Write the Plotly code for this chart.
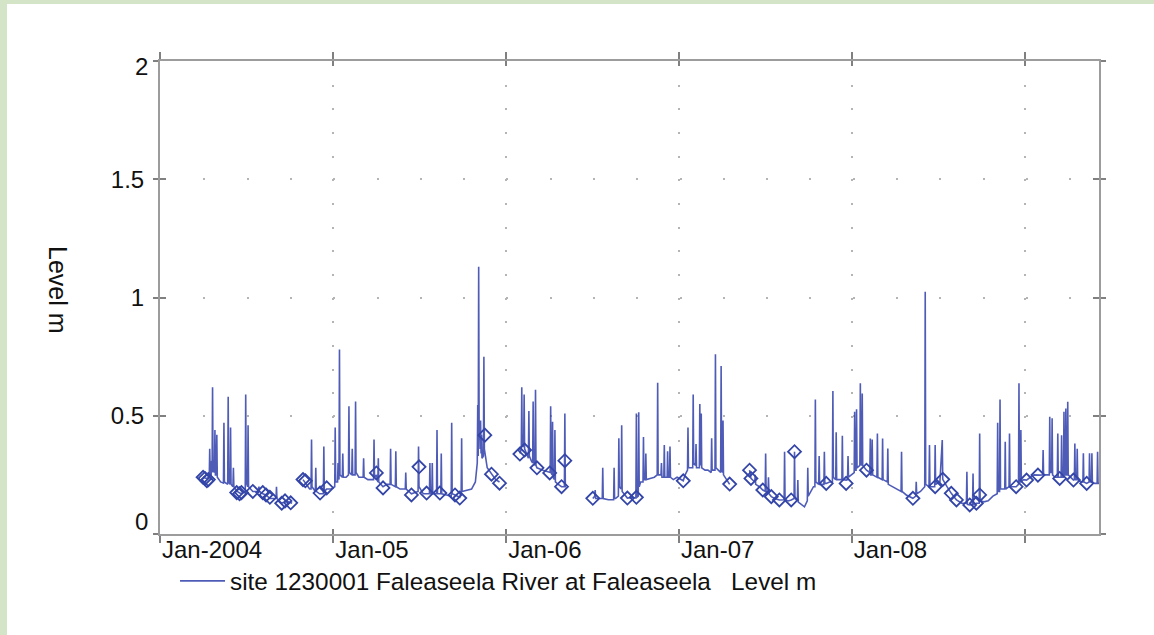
import plotly.graph_objects as go

# ---------------- data ----------------
year_ticks = ["2004-01-01", "2005-01-01", "2006-01-01", "2007-01-01", "2008-01-01", "2009-01-01"]
year_labels = ["Jan-2004", "Jan-05", "Jan-06", "Jan-07", "Jan-08", ""]
level_ticks = [0, 0.5, 1, 1.5, 2]
level_labels = ["0", "0.5", "1", "1.5", "2"]
x_range = ["2004-01-01", "2009-06-06"]

series_name = "site 1230001 Faleaseela River at Faleaseela\u00a0\u00a0 Level m"

# recorded water level (m), one list per recording period
seg_2004 = [
    ("2004-04-01", 0.24), ("2004-04-08", 0.235), ("2004-04-14", 0.24), ("2004-04-15", 0.36),
    ("2004-04-16", 0.25), ("2004-04-18", 0.25), ("2004-04-19", 0.31), ("2004-04-20", 0.26),
    ("2004-04-21", 0.62), ("2004-04-22", 0.27), ("2004-04-25", 0.26), ("2004-04-26", 0.44),
    ("2004-04-27", 0.25), ("2004-04-29", 0.25), ("2004-04-30", 0.42), ("2004-05-01", 0.24),
    ("2004-05-08", 0.22), ("2004-05-14", 0.215), ("2004-05-15", 0.47), ("2004-05-16", 0.22),
    ("2004-05-23", 0.21), ("2004-05-24", 0.58), ("2004-05-25", 0.22), ("2004-05-28", 0.21),
    ("2004-05-29", 0.45), ("2004-05-30", 0.21), ("2004-06-03", 0.20), ("2004-06-04", 0.28),
    ("2004-06-05", 0.20), ("2004-06-12", 0.18), ("2004-06-20", 0.17), ("2004-06-29", 0.18),
    ("2004-06-30", 0.59), ("2004-07-01", 0.22), ("2004-07-04", 0.20), ("2004-07-05", 0.46),
    ("2004-07-06", 0.20), ("2004-07-15", 0.18), ("2004-07-25", 0.18), ("2004-07-28", 0.20),
    ("2004-07-29", 0.18), ("2004-08-05", 0.17), ("2004-08-12", 0.165), ("2004-08-20", 0.15),
    ("2004-09-02", 0.15), ("2004-09-03", 0.20), ("2004-09-04", 0.15), ("2004-09-14", 0.13),
    ("2004-09-24", 0.14), ("2004-10-03", 0.13), ("2004-10-06", 0.13),
]

seg_2005 = [
    ("2004-10-29", 0.23), ("2004-11-05", 0.21), ("2004-11-12", 0.19), ("2004-11-15", 0.19),
    ("2004-11-16", 0.40), ("2004-11-17", 0.20), ("2004-11-24", 0.18), ("2004-11-25", 0.28),
    ("2004-11-26", 0.18), ("2004-12-03", 0.17), ("2004-12-11", 0.17), ("2004-12-12", 0.37),
    ("2004-12-13", 0.18), ("2004-12-18", 0.19), ("2004-12-27", 0.19), ("2005-01-04", 0.20),
    ("2005-01-05", 0.45), ("2005-01-06", 0.22), ("2005-01-10", 0.22), ("2005-01-11", 0.30),
    ("2005-01-12", 0.23), ("2005-01-13", 0.23), ("2005-01-14", 0.78), ("2005-01-15", 0.25),
    ("2005-01-20", 0.24), ("2005-01-21", 0.34), ("2005-01-22", 0.24), ("2005-01-28", 0.24),
    ("2005-02-02", 0.25), ("2005-02-03", 0.54), ("2005-02-04", 0.26), ("2005-02-09", 0.25),
    ("2005-02-10", 0.36), ("2005-02-11", 0.25), ("2005-02-16", 0.25), ("2005-02-17", 0.56),
    ("2005-02-18", 0.26), ("2005-02-24", 0.24), ("2005-03-05", 0.24), ("2005-03-06", 0.32),
    ("2005-03-07", 0.24), ("2005-03-15", 0.23), ("2005-03-27", 0.23), ("2005-03-28", 0.40),
    ("2005-03-29", 0.24), ("2005-04-02", 0.25), ("2005-04-05", 0.22), ("2005-04-06", 0.32),
    ("2005-04-07", 0.22), ("2005-04-16", 0.20), ("2005-04-24", 0.21), ("2005-05-01", 0.21),
    ("2005-05-02", 0.36), ("2005-05-03", 0.21), ("2005-05-12", 0.20), ("2005-05-13", 0.35),
    ("2005-05-14", 0.20), ("2005-05-22", 0.19), ("2005-06-02", 0.19), ("2005-06-03", 0.26),
    ("2005-06-04", 0.19), ("2005-06-15", 0.17), ("2005-06-29", 0.18), ("2005-06-30", 0.37),
    ("2005-07-01", 0.20), ("2005-07-10", 0.17), ("2005-07-17", 0.17), ("2005-07-23", 0.17),
    ("2005-07-24", 0.30), ("2005-07-25", 0.17), ("2005-07-28", 0.17), ("2005-07-29", 0.30),
    ("2005-07-30", 0.17), ("2005-08-07", 0.17), ("2005-08-08", 0.44), ("2005-08-09", 0.17),
    ("2005-08-14", 0.17), ("2005-08-16", 0.17), ("2005-08-17", 0.34), ("2005-08-18", 0.17),
    ("2005-08-28", 0.165), ("2005-09-07", 0.16), ("2005-09-08", 0.47), ("2005-09-09", 0.17),
    ("2005-09-15", 0.165), ("2005-09-25", 0.155), ("2005-09-28", 0.18), ("2005-09-29", 0.405),
    ("2005-09-30", 0.18), ("2005-10-10", 0.185), ("2005-10-20", 0.19), ("2005-10-28", 0.22),
    ("2005-11-01", 0.30), ("2005-11-02", 0.545), ("2005-11-03", 0.33), ("2005-11-04", 1.13),
    ("2005-11-05", 0.40), ("2005-11-06", 0.45), ("2005-11-07", 0.36), ("2005-11-08", 0.48),
    ("2005-11-09", 0.34), ("2005-11-10", 0.42), ("2005-11-11", 0.32), ("2005-11-14", 0.33),
    ("2005-11-15", 0.75), ("2005-11-16", 0.36), ("2005-11-22", 0.28), ("2005-12-02", 0.25),
    ("2005-12-10", 0.23), ("2005-12-18", 0.22),
]

seg_2006a = [
    ("2006-01-30", 0.34), ("2006-02-02", 0.36), ("2006-02-03", 0.62), ("2006-02-04", 0.37),
    ("2006-02-07", 0.37), ("2006-02-08", 0.59), ("2006-02-09", 0.36), ("2006-02-13", 0.34),
    ("2006-02-17", 0.32), ("2006-02-18", 0.52), ("2006-02-19", 0.33), ("2006-02-23", 0.31),
    ("2006-02-26", 0.30), ("2006-02-27", 0.56), ("2006-02-28", 0.31), ("2006-03-03", 0.29),
    ("2006-03-04", 0.61), ("2006-03-05", 0.29), ("2006-03-07", 0.28), ("2006-03-20", 0.27),
    ("2006-04-03", 0.26), ("2006-04-04", 0.26), ("2006-04-05", 0.54), ("2006-04-06", 0.26),
    ("2006-04-08", 0.25), ("2006-04-09", 0.475), ("2006-04-10", 0.24), ("2006-04-13", 0.23),
    ("2006-04-14", 0.44), ("2006-04-15", 0.22), ("2006-04-21", 0.21), ("2006-04-28", 0.20),
    ("2006-05-04", 0.20), ("2006-05-05", 0.51), ("2006-05-06", 0.20), ("2006-05-08", 0.20),
]

seg_2006b = [
    ("2006-07-03", 0.15), ("2006-07-07", 0.16), ("2006-07-08", 0.186), ("2006-07-09", 0.15),
    ("2006-07-16", 0.15), ("2006-07-23", 0.15), ("2006-07-24", 0.28), ("2006-07-25", 0.15),
    ("2006-08-05", 0.145), ("2006-08-16", 0.145), ("2006-08-17", 0.28), ("2006-08-18", 0.15),
    ("2006-08-20", 0.15), ("2006-08-26", 0.16), ("2006-08-27", 0.405), ("2006-08-28", 0.20),
    ("2006-09-01", 0.19), ("2006-09-02", 0.46), ("2006-09-03", 0.18), ("2006-09-08", 0.165),
    ("2006-09-14", 0.152), ("2006-09-25", 0.155), ("2006-10-02", 0.152), ("2006-10-03", 0.51),
    ("2006-10-04", 0.155), ("2006-10-07", 0.16), ("2006-10-08", 0.515), ("2006-10-09", 0.20),
    ("2006-10-12", 0.22), ("2006-10-17", 0.22), ("2006-10-18", 0.41), ("2006-10-19", 0.23),
    ("2006-10-22", 0.23), ("2006-10-23", 0.34), ("2006-10-24", 0.23), ("2006-11-01", 0.235),
    ("2006-11-10", 0.24), ("2006-11-16", 0.25), ("2006-11-17", 0.64), ("2006-11-18", 0.25),
    ("2006-11-24", 0.25), ("2006-11-25", 0.30), ("2006-11-26", 0.24), ("2006-11-30", 0.24),
    ("2006-12-01", 0.376), ("2006-12-02", 0.24), ("2006-12-07", 0.24), ("2006-12-08", 0.35),
    ("2006-12-09", 0.24), ("2006-12-12", 0.24), ("2006-12-13", 0.37), ("2006-12-14", 0.24),
    ("2006-12-20", 0.23), ("2006-12-28", 0.24), ("2007-01-06", 0.23), ("2007-01-10", 0.225),
    ("2007-01-14", 0.25), ("2007-01-19", 0.27), ("2007-01-20", 0.45), ("2007-01-21", 0.28),
    ("2007-01-25", 0.28), ("2007-01-30", 0.28), ("2007-01-31", 0.59), ("2007-02-01", 0.30),
    ("2007-02-05", 0.29), ("2007-02-06", 0.38), ("2007-02-07", 0.28), ("2007-02-13", 0.28),
    ("2007-02-14", 0.55), ("2007-02-15", 0.29), ("2007-02-17", 0.51), ("2007-02-18", 0.28),
    ("2007-02-25", 0.27), ("2007-03-03", 0.27), ("2007-03-10", 0.26), ("2007-03-11", 0.405),
    ("2007-03-12", 0.27), ("2007-03-18", 0.27), ("2007-03-19", 0.76), ("2007-03-20", 0.28),
    ("2007-03-25", 0.27), ("2007-03-30", 0.26), ("2007-03-31", 0.71), ("2007-04-01", 0.27),
    ("2007-04-03", 0.26), ("2007-04-04", 0.48), ("2007-04-05", 0.25), ("2007-04-12", 0.23),
    ("2007-04-18", 0.21),
]

seg_2007 = [
    ("2007-05-30", 0.27), ("2007-06-02", 0.235), ("2007-06-10", 0.22), ("2007-06-11", 0.25),
    ("2007-06-12", 0.21), ("2007-06-20", 0.20), ("2007-06-27", 0.186), ("2007-07-02", 0.18),
    ("2007-07-03", 0.34), ("2007-07-04", 0.18), ("2007-07-08", 0.17), ("2007-07-09", 0.24),
    ("2007-07-10", 0.17), ("2007-07-15", 0.158), ("2007-07-22", 0.15), ("2007-08-01", 0.144),
    ("2007-08-11", 0.145), ("2007-08-12", 0.348), ("2007-08-13", 0.145), ("2007-08-20", 0.14),
    ("2007-08-26", 0.144), ("2007-09-01", 0.15), ("2007-09-02", 0.348), ("2007-09-03", 0.15),
    ("2007-09-08", 0.14), ("2007-09-09", 0.228), ("2007-09-10", 0.135), ("2007-09-16", 0.125),
    ("2007-09-23", 0.115), ("2007-09-29", 0.14), ("2007-09-30", 0.28), ("2007-10-01", 0.16),
    ("2007-10-07", 0.18), ("2007-10-12", 0.20), ("2007-10-15", 0.20), ("2007-10-16", 0.569),
    ("2007-10-17", 0.22), ("2007-10-23", 0.21), ("2007-10-24", 0.33), ("2007-10-25", 0.21),
    ("2007-11-03", 0.21), ("2007-11-04", 0.348), ("2007-11-05", 0.214), ("2007-11-08", 0.214),
    ("2007-11-15", 0.22), ("2007-11-21", 0.22), ("2007-11-22", 0.605), ("2007-11-23", 0.24),
    ("2007-11-28", 0.23), ("2007-11-29", 0.43), ("2007-11-30", 0.23), ("2007-12-06", 0.23),
    ("2007-12-11", 0.23), ("2007-12-12", 0.415), ("2007-12-13", 0.23), ("2007-12-20", 0.228),
    ("2007-12-23", 0.23), ("2007-12-24", 0.33), ("2007-12-25", 0.24), ("2007-12-31", 0.25),
    ("2008-01-06", 0.26), ("2008-01-07", 0.517), ("2008-01-08", 0.27), ("2008-01-10", 0.27),
    ("2008-01-11", 0.527), ("2008-01-12", 0.28), ("2008-01-18", 0.29), ("2008-01-19", 0.637),
    ("2008-01-20", 0.30), ("2008-01-22", 0.29), ("2008-01-23", 0.594), ("2008-01-24", 0.29),
    ("2008-02-01", 0.27), ("2008-02-08", 0.26), ("2008-02-09", 0.404), ("2008-02-10", 0.25),
    ("2008-02-12", 0.25), ("2008-02-13", 0.40), ("2008-02-14", 0.25), ("2008-02-23", 0.24),
    ("2008-02-24", 0.425), ("2008-02-25", 0.24), ("2008-03-05", 0.23), ("2008-03-06", 0.404),
    ("2008-03-07", 0.23), ("2008-03-16", 0.22), ("2008-03-17", 0.362), ("2008-03-18", 0.21),
    ("2008-03-28", 0.20), ("2008-04-05", 0.19), ("2008-04-14", 0.18), ("2008-04-15", 0.348),
    ("2008-04-16", 0.18), ("2008-04-25", 0.165), ("2008-05-09", 0.151), ("2008-05-15", 0.16),
    ("2008-05-16", 0.221), ("2008-05-17", 0.17), ("2008-05-25", 0.18), ("2008-06-03", 0.20),
    ("2008-06-04", 1.024), ("2008-06-05", 0.21), ("2008-06-12", 0.20), ("2008-06-13", 0.376),
    ("2008-06-14", 0.20), ("2008-06-24", 0.20), ("2008-06-25", 0.376), ("2008-06-26", 0.21),
    ("2008-07-05", 0.22), ("2008-07-10", 0.397), ("2008-07-11", 0.231), ("2008-07-20", 0.20),
    ("2008-07-29", 0.172), ("2008-08-09", 0.144), ("2008-08-20", 0.13), ("2008-08-30", 0.13),
    ("2008-08-31", 0.263), ("2008-09-01", 0.125), ("2008-09-06", 0.123), ("2008-09-12", 0.125),
    ("2008-09-13", 0.256), ("2008-09-14", 0.125), ("2008-09-20", 0.13), ("2008-09-26", 0.13),
    ("2008-09-27", 0.425), ("2008-09-28", 0.14), ("2008-10-06", 0.136), ("2008-10-15", 0.14),
    ("2008-10-25", 0.16), ("2008-11-03", 0.17), ("2008-11-04", 0.47), ("2008-11-05", 0.18),
    ("2008-11-08", 0.18), ("2008-11-09", 0.569), ("2008-11-10", 0.19), ("2008-11-19", 0.19),
    ("2008-11-20", 0.39), ("2008-11-21", 0.19), ("2008-11-28", 0.20), ("2008-11-29", 0.425),
    ("2008-11-30", 0.20), ("2008-12-06", 0.20), ("2008-12-13", 0.20), ("2008-12-18", 0.21),
    ("2008-12-19", 0.637), ("2008-12-20", 0.22), ("2008-12-22", 0.22), ("2008-12-23", 0.44),
    ("2008-12-24", 0.22), ("2008-12-28", 0.23), ("2009-01-04", 0.228), ("2009-01-12", 0.24),
    ("2009-01-20", 0.25), ("2009-02-01", 0.249), ("2009-02-07", 0.25), ("2009-02-08", 0.355),
    ("2009-02-09", 0.25), ("2009-02-15", 0.25), ("2009-02-21", 0.25), ("2009-02-22", 0.496),
    ("2009-02-23", 0.26), ("2009-02-26", 0.26), ("2009-02-27", 0.489), ("2009-02-28", 0.25),
    ("2009-03-05", 0.24), ("2009-03-10", 0.24), ("2009-03-11", 0.425), ("2009-03-12", 0.24),
    ("2009-03-15", 0.24), ("2009-03-18", 0.24), ("2009-03-19", 0.418), ("2009-03-20", 0.24),
    ("2009-03-23", 0.24), ("2009-03-24", 0.517), ("2009-03-25", 0.25), ("2009-03-27", 0.25),
    ("2009-03-28", 0.531), ("2009-03-29", 0.25), ("2009-03-31", 0.25), ("2009-04-01", 0.559),
    ("2009-04-02", 0.25), ("2009-04-08", 0.24), ("2009-04-13", 0.228), ("2009-04-15", 0.23),
    ("2009-04-16", 0.383), ("2009-04-17", 0.23), ("2009-04-20", 0.23), ("2009-04-21", 0.36),
    ("2009-04-22", 0.23), ("2009-04-28", 0.22), ("2009-05-03", 0.22), ("2009-05-04", 0.341),
    ("2009-05-05", 0.22), ("2009-05-11", 0.214), ("2009-05-16", 0.22), ("2009-05-17", 0.341),
    ("2009-05-18", 0.22), ("2009-05-21", 0.22), ("2009-05-22", 0.341), ("2009-05-23", 0.22),
    ("2009-05-28", 0.214), ("2009-06-02", 0.214), ("2009-06-03", 0.348), ("2009-06-04", 0.214),
    ("2009-06-06", 0.214),
]

# check readings (open diamonds)
obs_points = [
    ("2004-04-01", 0.24), ("2004-04-05", 0.235), ("2004-04-09", 0.225), ("2004-04-12", 0.23),
    ("2004-06-11", 0.175), ("2004-06-17", 0.17), ("2004-06-21", 0.175), ("2004-07-15", 0.18),
    ("2004-08-05", 0.175), ("2004-08-12", 0.165), ("2004-08-20", 0.155), ("2004-09-14", 0.13),
    ("2004-09-21", 0.14), ("2004-10-03", 0.132),
    ("2004-10-29", 0.23), ("2004-11-03", 0.225), ("2004-12-04", 0.173), ("2004-12-18", 0.195),
    ("2005-04-02", 0.258), ("2005-04-16", 0.195), ("2005-06-15", 0.165), ("2005-07-01", 0.284),
    ("2005-07-17", 0.173), ("2005-08-14", 0.173), ("2005-09-15", 0.165), ("2005-09-25", 0.152),
    ("2005-11-17", 0.418), ("2005-12-01", 0.253), ("2005-12-18", 0.215),
    ("2006-01-30", 0.338), ("2006-02-09", 0.355), ("2006-03-07", 0.28), ("2006-04-03", 0.258),
    ("2006-04-28", 0.20), ("2006-05-05", 0.31),
    ("2006-07-03", 0.151), ("2006-09-14", 0.152), ("2006-10-03", 0.155), ("2007-01-10", 0.225),
    ("2007-04-18", 0.211),
    ("2007-05-30", 0.27), ("2007-06-02", 0.235), ("2007-06-27", 0.186), ("2007-07-15", 0.158),
    ("2007-08-01", 0.144), ("2007-08-26", 0.144), ("2007-09-02", 0.348), ("2007-11-08", 0.214),
    ("2007-12-20", 0.214), ("2008-02-01", 0.27), ("2008-05-09", 0.151), ("2008-06-25", 0.20),
    ("2008-07-11", 0.231), ("2008-07-29", 0.172), ("2008-08-09", 0.144), ("2008-09-06", 0.123),
    ("2008-09-20", 0.13), ("2008-09-27", 0.165), ("2008-12-13", 0.20), ("2009-01-04", 0.228),
    ("2009-01-28", 0.249), ("2009-03-15", 0.235), ("2009-04-13", 0.228), ("2009-05-11", 0.214),
]

# ---------------- build ----------------
segments = [seg_2004, seg_2005, seg_2006a, seg_2006b, seg_2007]
line_x, line_y = [], []
for seg in segments:
    for d, v in seg:
        line_x.append(d)
        line_y.append(v)
    line_x.append(seg[-1][0])
    line_y.append(None)  # break between recording periods

obs_x = [d for d, _ in obs_points]
obs_y = [v for _, v in obs_points]

FONT = "Liberation Sans, Arial, Helvetica, sans-serif"
TXT = "#111111"
BLUE_LINE = "rgba(48,64,170,0.85)"
BLUE_MARK = "#3445a8"
AXIS = "#9c9c9c"
TICK = "#808080"
GRID = "#b4b4b4"
FS = 24

fig = go.Figure()
fig.add_trace(go.Scatter(
    x=line_x, y=line_y, mode="lines", name=series_name,
    line=dict(color=BLUE_LINE, width=1.6), connectgaps=False, showlegend=True,
    hoverinfo="x+y",
))
fig.add_trace(go.Scatter(
    x=obs_x, y=obs_y, mode="markers", xaxis="x2", yaxis="y2", showlegend=False,
    marker=dict(symbol="diamond-open", size=10, color=BLUE_MARK, line=dict(width=1.8, color=BLUE_MARK)),
))

W, H = 1154, 635
L, R, T, B = 160, 55, 61, 101
pw = W - L - R
ph = H - T - B

fig.update_layout(
    width=W, height=H,
    margin=dict(l=L, r=R, t=T, b=B, pad=0),
    paper_bgcolor="white", plot_bgcolor="white",
    font=dict(family=FONT, size=FS, color=TXT),
    xaxis=dict(
        type="date", range=x_range,
        tickmode="array", tickvals=year_ticks, ticktext=year_labels,
        ticklabelposition="outside right", ticklabelstandoff=-7,
        showline=True, linecolor=AXIS, linewidth=2, mirror="ticks",
        ticks="outside", ticklen=7, tickwidth=2, tickcolor=TICK,
        showgrid=True, gridcolor=GRID, gridwidth=1.5, griddash="2px,21.67px",
        zeroline=False, tickfont=dict(size=FS, color=TXT),
    ),
    xaxis2=dict(
        type="date", overlaying="x", matches="x", anchor="y", side="bottom",
        tickmode="array", tickvals=year_ticks, showticklabels=False,
        showline=False, mirror="ticks", ticks="inside", ticklen=5, tickwidth=2, tickcolor=TICK,
        showgrid=False, zeroline=False,
    ),
    yaxis=dict(
        range=[0, 2], tickmode="array", tickvals=level_ticks,
        ticktext=["" if t in (0, 2) else lab for t, lab in zip(level_ticks, level_labels)],
        showline=True, linecolor=AXIS, linewidth=2, mirror="ticks",
        ticks="outside", ticklen=5, tickwidth=2, tickcolor=TICK,
        showgrid=True, gridcolor=GRID, gridwidth=1.5, griddash="2px,41.3px",
        zeroline=False, tickfont=dict(size=FS, color=TXT), ticklabelstandoff=4,
    ),
    yaxis2=dict(
        range=[0, 2], overlaying="y", matches="y", anchor="x", side="left",
        tickmode="array", tickvals=level_ticks, showticklabels=False,
        showline=False, mirror="ticks", ticks="inside", ticklen=6, tickwidth=2, tickcolor=TICK,
        showgrid=False, zeroline=False,
    ),
    legend=dict(
        orientation="h", x=0.016, y=-0.052, xanchor="left", yanchor="top",
        font=dict(size=24.3, color=TXT), bgcolor="rgba(0,0,0,0)", itemwidth=45,
    ),
    showlegend=True,
)

# end labels of the level scale sit inside the axis extent
for t, lab in zip(level_ticks, level_labels):
    if t in (0, 2):
        fig.add_annotation(
            x=0, xref="paper", y=t, yref="y", text=lab, showarrow=False,
            xanchor="right", yanchor="middle", xshift=-10, yshift=(13 if t == 0 else -5),
            font=dict(size=FS, color=TXT),
        )

# y-axis title, reading downward
fig.add_annotation(
    x=(58 - L) / pw, xref="paper", y=(H - B - 290) / ph, yref="paper",
    text="Level m", textangle=90, showarrow=False,
    xanchor="center", yanchor="middle", font=dict(size=25, color=TXT),
)

# light green frame strips (top and left edges of the page)
GREEN = "#d4e4c7"
fig.add_shape(type="rect", xref="paper", yref="paper", layer="below",
              x0=-L / pw - 0.01, x1=(7 - L) / pw, y0=-B / ph - 0.01, y1=(H - B) / ph + 0.01,
              line=dict(width=0), fillcolor=GREEN)
fig.add_shape(type="rect", xref="paper", yref="paper", layer="below",
              x0=-L / pw - 0.01, x1=(W - L) / pw + 0.01, y0=(H - B - 4) / ph, y1=(H - B) / ph + 0.01,
              line=dict(width=0), fillcolor=GREEN)

fig.write_html("out.html")
